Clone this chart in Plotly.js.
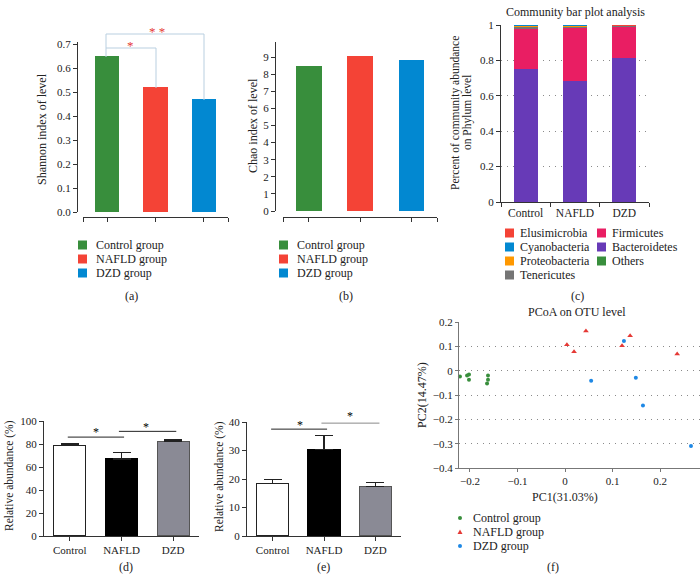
<!DOCTYPE html>
<html><head><meta charset="utf-8">
<script src="https://cdn.plot.ly/plotly-3.0.1.min.js"></script>
<style>html,body{margin:0;padding:0;background:#fff}#chart{width:700px;height:588px}</style>
</head><body><div id="chart"></div>
<script>
// ---------- data ----------
const groups = ['Control group', 'NAFLD group', 'DZD group'];
const groupColors = ['#388e3c', '#f44336', '#0288d1'];
const shannon = [0.65, 0.52, 0.47];
const chao = [8.47, 9.06, 8.82];

const phylumCats = ['Control', 'NAFLD', 'DZD'];
const bacteroidetes = [0.751, 0.681, 0.814];
const firmicutes = [0.224, 0.304, 0.172];
const tenericutes = [0.011, 0.003, 0.006];
const proteobacteria = [0.010, 0.008, 0.005];
const elusimicrobia = [0.001, 0.001, 0.001];
const cyanobacteria = [0.001, 0.001, 0.001];
const others = [0.002, 0.002, 0.001];
const phylumColors = {Elusimicrobia:'#f44336', Cyanobacteria:'#0288d1', Proteobacteria:'#ff9800', Tenericutes:'#757575', Firmicutes:'#e91e63', Bacteroidetes:'#673ab7', Others:'#388e3c'};

const abundCats = ['Control', 'NAFLD', 'DZD'];
const bactPct = [78.5, 67.0, 82.0];
const bactErr = [1.5, 5.5, 1.5];
const firmPct = [18.5, 30.3, 17.4];
const firmErr = [1.3, 5.0, 1.4];

const controlPC1 = [-0.221, -0.206, -0.202, -0.202, -0.162, -0.162, -0.164];
const controlPC2 = [-0.024, -0.020, -0.016, -0.037, -0.020, -0.037, -0.053];
const nafldPC1 = [0.044, 0.004, 0.019, 0.120, 0.137, 0.236];
const nafldPC2 = [0.163, 0.106, 0.078, 0.102, 0.143, 0.069];
const dzdPC1 = [0.055, 0.124, 0.149, 0.164, 0.265];
const dzdPC2 = [-0.041, 0.122, -0.029, -0.143, -0.310];

// ---------- helpers ----------
const W = 700, H = 588, F = 'Liberation Serif';
const fx = p => p / W, fy = p => 1 - p / H;
const font = (s, c) => ({family: F, size: s || 11, color: c || '#222'});
function ax(o) {
  return Object.assign({showgrid:false, zeroline:false, showline:true, linecolor:'#333', linewidth:1,
    ticks:'outside', ticklen:4, tickcolor:'#333', tickwidth:1, tickfont:font(11), fixedrange:true}, o);
}
function ann(text, x, y, o) {
  return Object.assign({text, x:fx(x), y:fy(y), xref:'paper', yref:'paper', showarrow:false,
    font:font(12), xanchor:'center', yanchor:'middle'}, o || {});
}
function pathPx(pts) { return pts.map((p, i) => (i ? 'L' : 'M') + fx(p[0]) + ',' + fy(p[1])).join(' '); }

const traces = [];
// (a)
traces.push({type:'bar', x:[0,1,2], y:shannon, width:0.5, marker:{color:groupColors}, xaxis:'x', yaxis:'y', hoverinfo:'none'});
// (b)
traces.push({type:'bar', x:[0,1,2], y:chao, width:0.5, marker:{color:groupColors}, xaxis:'x2', yaxis:'y2', hoverinfo:'none'});
// (c)
const stackOrder = [['Bacteroidetes', bacteroidetes], ['Firmicutes', firmicutes], ['Tenericutes', tenericutes],
  ['Proteobacteria', proteobacteria], ['Elusimicrobia', elusimicrobia], ['Cyanobacteria', cyanobacteria], ['Others', others]];
stackOrder.forEach(([n, v]) => traces.push({type:'bar', x:phylumCats, y:v, name:n, width:0.48,
  marker:{color:phylumColors[n]}, xaxis:'x3', yaxis:'y3', hoverinfo:'none'}));
// (d)
traces.push({type:'bar', x:[0,1,2], y:bactPct, width:0.62, xaxis:'x4', yaxis:'y4', hoverinfo:'none',
  marker:{color:['#ffffff','#000000','#8a8a95'], line:{color:['#222','#000','#555'], width:1.2}},
  error_y:{type:'data', symmetric:false, array:bactErr, arrayminus:[0,0,0], color:'#222', thickness:1.2, width:9}});
// (e)
traces.push({type:'bar', x:[0,1,2], y:firmPct, width:0.62, xaxis:'x5', yaxis:'y5', hoverinfo:'none',
  marker:{color:['#ffffff','#000000','#8a8a95'], line:{color:['#222','#000','#555'], width:1.2}},
  error_y:{type:'data', symmetric:false, array:firmErr, arrayminus:[0,0,0], color:'#222', thickness:1.2, width:9}});
// (f)
traces.push({type:'scatter', mode:'markers', x:controlPC1, y:controlPC2, xaxis:'x6', yaxis:'y6', cliponaxis:false,
  marker:{symbol:'circle', size:4, color:'#388e3c'}, hoverinfo:'none'});
traces.push({type:'scatter', mode:'markers', x:nafldPC1, y:nafldPC2, xaxis:'x6', yaxis:'y6', cliponaxis:false,
  marker:{symbol:'triangle-up', size:5, color:'#e53935'}, hoverinfo:'none'});
traces.push({type:'scatter', mode:'markers', x:dzdPC1, y:dzdPC2, xaxis:'x6', yaxis:'y6', cliponaxis:false,
  marker:{symbol:'circle', size:4, color:'#1e88e5'}, hoverinfo:'none'});

const layout = {
  width:W, height:H, margin:{l:0, r:0, t:0, b:0}, showlegend:false, barmode:'stack',
  paper_bgcolor:'#fff', plot_bgcolor:'rgba(0,0,0,0)', font:font(11),
  // (a)
  xaxis: ax({domain:[fx(83), fx(228)], range:[-0.5, 2.5], anchor:'free', position:fy(217),
    tickvals:[-0.5, 0, 1, 2, 2.5], showticklabels:false}),
  yaxis: ax({domain:[fy(212), fy(41.6)], range:[0, 0.71], anchor:'free', position:fx(77),
    tickvals:[0, 0.1, 0.2, 0.3, 0.4, 0.5, 0.6, 0.7], tickformat:'.1f'}),
  // (b)
  xaxis2: ax({domain:[fx(283), fx(437)], range:[-0.5, 2.5], anchor:'free', position:fy(217),
    tickvals:[-0.5, 0, 1, 2, 2.5], showticklabels:false}),
  yaxis2: ax({domain:[fy(211), fy(41.6)], range:[0, 9.9], anchor:'free', position:fx(275),
    tickvals:[0,1,2,3,4,5,6,7,8,9]}),
  // (c)
  xaxis3: ax({domain:[fx(501), fx(649)], anchor:'y3', type:'category', range:[-0.5, 2.5], tickson:'boundaries',
    tickfont:font(11.5)}),
  yaxis3: ax({domain:[fy(202), fy(25)], anchor:'x3', range:[0, 1], tickvals:[0, 0.2, 0.4, 0.6, 0.8, 1],
    ticktext:['0', '0.2', '0.4', '0.6', '0.8', '1'], showgrid:true, gridcolor:'#8a8a8a', griddash:'1px,5px', gridwidth:1}),
  // (d)
  xaxis4: ax({domain:[fx(44), fx(199)], anchor:'y4', range:[-0.5, 2.5], tickvals:[0, 1, 2], ticktext:abundCats}),
  yaxis4: ax({domain:[fy(536), fy(421)], anchor:'x4', range:[0, 100], tickvals:[0, 20, 40, 60, 80, 100]}),
  // (e)
  xaxis5: ax({domain:[fx(247), fx(401)], anchor:'y5', range:[-0.5, 2.5], tickvals:[0, 1, 2], ticktext:abundCats}),
  yaxis5: ax({domain:[fy(536), fy(422)], anchor:'x5', range:[0, 40], tickvals:[0, 10, 20, 30, 40]}),
  // (f)
  xaxis6: ax({domain:[fx(459), 1], anchor:'y6', range:[-0.223, 0.284], tickvals:[-0.2, -0.1, 0, 0.1, 0.2],
    ticktext:['\u22120.2', '\u22120.1', '0', '0.1', '0.2'], ticklen:3, linecolor:'#777', tickcolor:'#777'}),
  yaxis6: ax({domain:[fy(468), fy(322)], anchor:'x6', range:[-0.4, 0.2], tickvals:[-0.4, -0.3, -0.2, -0.1, 0, 0.1, 0.2],
    ticktext:['\u22120.4', '\u22120.3', '\u22120.2', '\u22120.1', '0', '0.1', '0.2'], ticklen:3, linecolor:'#777', tickcolor:'#777',
    showgrid:true, gridcolor:'#8a8a8a', griddash:'1px,5px', gridwidth:1}),
  shapes: [], annotations: []
};

const S = layout.shapes, A = layout.annotations;
// (a) significance brackets
const brk = '#b9cfe0';
S.push({type:'path', xref:'paper', yref:'paper', path:pathPx([[106,57],[106,48],[156,48],[156,88]]), line:{color:brk, width:1}});
S.push({type:'path', xref:'paper', yref:'paper', path:pathPx([[106,48],[106,34],[204,34],[204,100]]), line:{color:brk, width:1}});
A.push(ann('*', 130, 45, {font:font(13, '#e53935')}));
A.push(ann('* *', 157, 32, {font:font(13, '#e53935')}));

// axis titles
A.push(ann('Shannon index of level', 42, 129, {textangle:-90}));
A.push(ann('Chao index of level', 253, 126, {textangle:-90}));
A.push(ann('Percent of community abundance', 455, 113, {textangle:-90, font:font(11.5)}));
A.push(ann('on Phylum level', 467, 113, {textangle:-90, font:font(11.5)}));
A.push(ann('Community bar plot analysis', 575, 12, {font:font(12)}));
A.push(ann('Relative abundance (%)', 9, 476, {textangle:-90, font:font(11.5)}));
A.push(ann('Relative abundance (%)', 219, 476, {textangle:-90, font:font(11.5)}));
A.push(ann('PCoA on OTU level', 577, 312, {font:font(12)}));
A.push(ann('PC1(31.03%)', 565, 497, {font:font(12)}));
A.push(ann('PC2(14.47%)', 422, 395, {textangle:-90, font:font(12)}));

// legends (a),(b)
function sq(x, y, c, s) { s = s || 9; S.push({type:'rect', xref:'paper', yref:'paper', x0:fx(x), x1:fx(x+s), y0:fy(y+s/2), y1:fy(y-s/2), fillcolor:c, line:{width:0}}); }
[[78, 94], [279, 295]].forEach(([sx, tx]) => {
  groups.forEach((g, i) => { const y = 245 + i * 14; sq(sx, y, groupColors[i]); A.push(ann(g, tx, y, {xanchor:'left', font:font(12)})); });
});
// legend (c)
const col1 = ['Elusimicrobia', 'Cyanobacteria', 'Proteobacteria', 'Tenericutes'];
const col2 = ['Firmicutes', 'Bacteroidetes', 'Others'];
col1.forEach((n, i) => { const y = 233 + i * 14; sq(505, y, phylumColors[n]); A.push(ann(n, 518, y, {xanchor:'left', font:font(12)})); });
col2.forEach((n, i) => { const y = 233 + i * 14; sq(597, y, phylumColors[n]); A.push(ann(n, 610, y, {xanchor:'left', font:font(12)})); });
// panel letters
A.push(ann('(a)', 131, 296)); A.push(ann('(b)', 346, 296)); A.push(ann('(c)', 577, 296));
A.push(ann('(d)', 126, 567)); A.push(ann('(e)', 323, 567)); A.push(ann('(f)', 553, 567));

// (d) significance
S.push({type:'line', xref:'x4', yref:'y4', x0:-0.04, x1:1.05, y0:86, y1:86, line:{color:'#222', width:1}});
S.push({type:'line', xref:'x4', yref:'y4', x0:0.95, x1:2.06, y0:91, y1:91, line:{color:'#222', width:1}});
A.push(ann('*', 96, 432, {font:font(12, '#000')}));
A.push(ann('*', 146, 427, {font:font(12, '#000')}));
// (e) significance
S.push({type:'line', xref:'x5', yref:'y5', x0:-0.03, x1:1.06, y0:37.5, y1:37.5, line:{color:'#222', width:1}});
S.push({type:'line', xref:'x5', yref:'y5', x0:0.95, x1:2.08, y0:39.6, y1:39.6, line:{color:'#8a8a8a', width:1}});
A.push(ann('*', 300, 425, {font:font(12, '#000')}));
A.push(ann('*', 350, 416, {font:font(12, '#000')}));

// legend (f)
const fl = [[518, '#388e3c', 'c'], [532, '#e53935', 't'], [546, '#1e88e5', 'c']];
fl.forEach(([y, c, k], i) => {
  if (k === 'c') S.push({type:'circle', xref:'paper', yref:'paper', x0:fx(458), x1:fx(462), y0:fy(y+2), y1:fy(y-2), fillcolor:c, line:{width:0}});
  else S.push({type:'path', xref:'paper', yref:'paper', path:pathPx([[457.5,y+2],[462.5,y+2],[460,y-2.5]]) + ' Z', fillcolor:c, line:{width:0}});
  A.push(ann(groups[i], 471, y, {xanchor:'left', font:font(12)}));
});

Plotly.newPlot('chart', traces, layout, {staticPlot:true, displayModeBar:false});
</script></body></html>
